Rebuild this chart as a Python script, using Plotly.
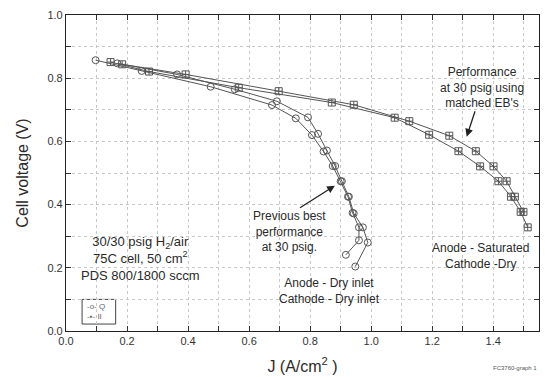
import plotly.graph_objects as go

# Dry inlet (circles, two runs)
q1_j = [0.097, 0.248, 0.474, 0.675, 0.753, 0.806, 0.844, 0.874, 0.900, 0.924, 0.939, 0.960, 0.960, 0.917]
q1_v = [0.857, 0.823, 0.773, 0.715, 0.673, 0.620, 0.568, 0.522, 0.474, 0.425, 0.374, 0.328, 0.287, 0.241]
q2_j = [0.168, 0.364, 0.553, 0.691, 0.793, 0.826, 0.855, 0.882, 0.904, 0.927, 0.943, 0.973, 0.989, 0.948]
q2_v = [0.847, 0.812, 0.765, 0.727, 0.676, 0.624, 0.571, 0.522, 0.474, 0.425, 0.372, 0.328, 0.280, 0.204]

# Saturated anode (squares, two runs)
s1_j = [0.146, 0.272, 0.566, 0.871, 1.077, 1.190, 1.286, 1.357, 1.417, 1.458, 1.490, 1.513]
s1_v = [0.851, 0.821, 0.770, 0.723, 0.675, 0.621, 0.569, 0.521, 0.474, 0.425, 0.377, 0.328]
s2_j = [0.184, 0.392, 0.697, 0.943, 1.125, 1.256, 1.343, 1.401, 1.444, 1.471, 1.499]
s2_v = [0.844, 0.812, 0.759, 0.716, 0.664, 0.618, 0.569, 0.521, 0.474, 0.425, 0.377]

legend_labels = ["-o- Q", "-\u25aa- II"]

FONT = "Liberation Sans, Arial, sans-serif"
GREY = "#555555"
TXT = "#2a2a2a"

fig = go.Figure()

def add(x, y, sym):
    fig.add_trace(go.Scatter(
        x=x, y=y, mode="lines+markers", showlegend=False,
        line=dict(color=GREY, width=1),
        marker=dict(symbol=sym, size=7, color=GREY, line=dict(color=GREY, width=1)),
    ))

add(q1_j, q1_v, "circle-open")
add(q2_j, q2_v, "circle-open")
add(s1_j, s1_v, "square-cross-open")
add(s2_j, s2_v, "square-cross-open")

ann_font = dict(family=FONT, size=12, color=TXT)
annotations = [
    dict(x=1.364, y=0.77, text="Performance<br>at 30 psig using<br>matched EB's",
         showarrow=False, font=ann_font),
    dict(x=0.733, y=0.314, text="Previous best<br>performance<br>at 30 psig.",
         showarrow=False, font=ann_font),
    dict(x=1.357, y=0.236, text="Anode - Saturated<br>Cathode -Dry",
         showarrow=False, font=ann_font),
    dict(x=0.864, y=0.126, text="Anode - Dry inlet<br>Cathode - Dry inlet",
         showarrow=False, font=ann_font),
    dict(x=0.245, y=0.228, text="30/30 psig H<sub>2</sub>/air<br>75C cell, 50 cm<sup>2</sup><br>PDS 800/1800 sccm",
         showarrow=False, font=dict(family=FONT, size=13, color=TXT)),
    # arrows
    dict(x=1.313, y=0.615, ax=1.342, ay=0.700, axref="x", ayref="y", xref="x", yref="y",
         text="", showarrow=True, arrowhead=2, arrowsize=1.2, arrowwidth=1.3, arrowcolor="#222"),
    dict(x=0.881, y=0.46, ax=0.762, ay=0.387, axref="x", ayref="y", xref="x", yref="y",
         text="", showarrow=True, arrowhead=2, arrowsize=1.2, arrowwidth=1.3, arrowcolor="#222"),
    dict(x=1.0, y=-0.10, xref="paper", yref="paper", xanchor="right", yanchor="top",
         text="FC3760-graph 1", showarrow=False, font=dict(family=FONT, size=6, color="#555")),
    # small legend box text
    dict(x=0.040, y=0.077, xref="paper", yref="paper", xanchor="left", yanchor="middle",
         text=legend_labels[0], showarrow=False, font=dict(family=FONT, size=8, color="#666")),
    dict(x=0.040, y=0.045, xref="paper", yref="paper", xanchor="left", yanchor="middle",
         text=legend_labels[1], showarrow=False, font=dict(family=FONT, size=8, color="#666")),
]

axis_common = dict(
    showline=True, linecolor="#222", linewidth=1.2, mirror="ticks",
    ticks="inside", ticklen=5, tickcolor="#333", tickwidth=1,
    showgrid=True, gridcolor="#c8c8c8", griddash="dot", gridwidth=1,
    zeroline=False, tickformat=".1f",
    tickfont=dict(family=FONT, size=11, color="#333"),
    minor=dict(dtick=0.1, ticks="inside", ticklen=5, tickcolor="#333",
               showgrid=True, gridcolor="#c8c8c8", griddash="dot"),
)

fig.update_layout(
    width=545, height=377,
    margin=dict(l=66, r=5, t=15, b=44),
    paper_bgcolor="white", plot_bgcolor="white",
    font=dict(family=FONT, color=TXT),
    xaxis=dict(range=[0, 1.55], dtick=0.2, tick0=0,
               title=dict(text="J (A/cm<sup>2</sup> )", font=dict(family=FONT, size=16, color=TXT), standoff=14),
               **axis_common),
    yaxis=dict(range=[0, 1.0], dtick=0.2, tick0=0,
               title=dict(text="Cell voltage (V)", font=dict(family=FONT, size=16, color=TXT), standoff=14),
               **axis_common),
    showlegend=False,
    shapes=[dict(type="rect", xref="paper", yref="paper", x0=0.034, x1=0.105, y0=0.022, y1=0.100,
                 line=dict(color="#444", width=1), fillcolor="rgba(0,0,0,0)", layer="below")],
    annotations=annotations,
)

fig.write_html("out.html")
